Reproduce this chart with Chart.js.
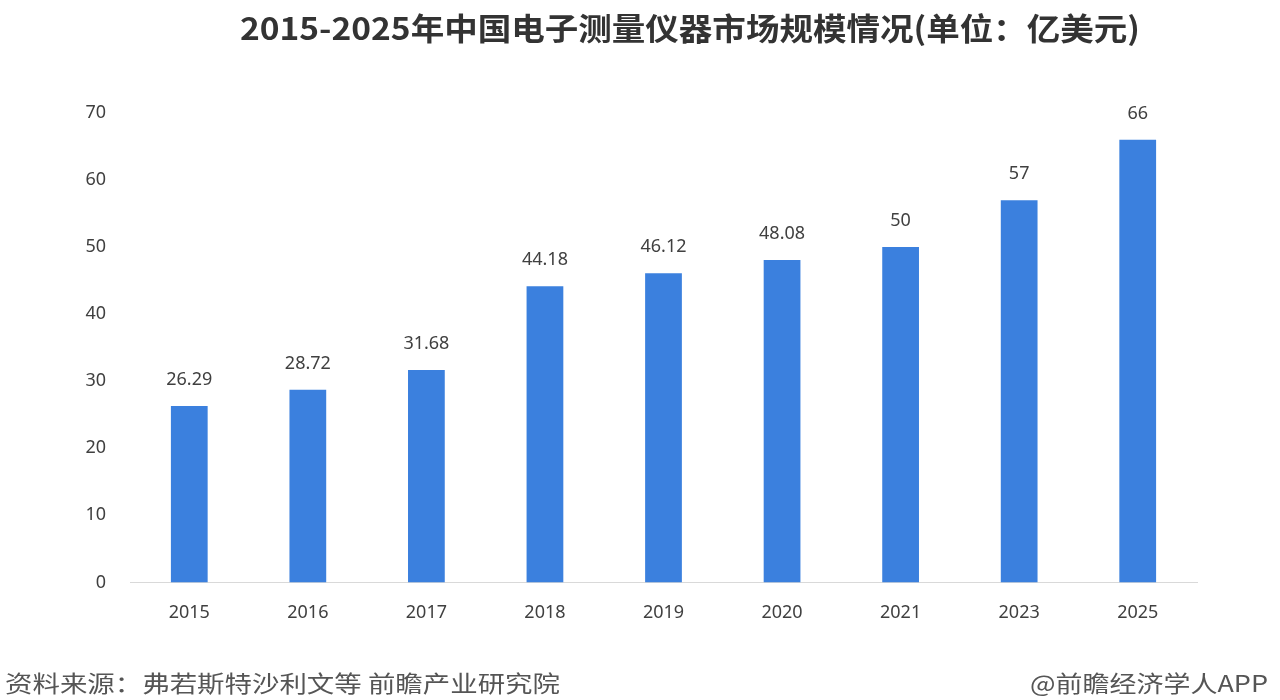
<!DOCTYPE html>
<html>
<head>
<meta charset="utf-8">
<script src="https://cdn.jsdelivr.net/npm/chart.js@4.4.0/dist/chart.umd.min.js"></script>
<style>
  html, body { margin: 0; padding: 0; background: #fff; }
  #wrap { width: 1280px; height: 700px; }
</style>
</head>
<body>
<div id="wrap"><canvas id="myChart" width="1280" height="700"></canvas></div>
<script>
const years = ['2015', '2016', '2017', '2018', '2019', '2020', '2021', '2023', '2025'];
const marketSize = [26.29, 28.72, 31.68, 44.18, 46.12, 48.08, 50, 57, 66];
const yTicks = [0, 10, 20, 30, 40, 50, 60, 70];

const titleText = '2015-2025年中国电子测量仪器市场规模情况(单位：亿美元)';
const sourceText = '资料来源：弗若斯特沙利文等 前瞻产业研究院';
const brandText = '@前瞻经济学人APP';

const cjk = '"Noto Sans CJK SC", "Noto Sans", sans-serif';

// draw text squeezed/stretched to span from x0 to x1
function fitText(ctx, text, x0, x1, y) {
  const w = ctx.measureText(text).width;
  ctx.save();
  ctx.translate(x0, y);
  ctx.scale((x1 - x0) / w, 1);
  ctx.textAlign = 'left';
  ctx.fillText(text, 0, 0);
  ctx.restore();
}

// value labels above each bar + title and footer texts
const extrasPlugin = {
  id: 'extras',
  afterDatasetsDraw(chart) {
    const ctx = chart.ctx;
    const meta = chart.getDatasetMeta(0);
    ctx.save();
    ctx.fillStyle = '#404040';
    ctx.font = '18px "Noto Sans", sans-serif';
    ctx.textAlign = 'center';
    ctx.textBaseline = 'middle';
    meta.data.forEach((bar, i) => {
      ctx.fillText(String(marketSize[i]), bar.x, bar.y - 26);
    });

    ctx.fillStyle = '#333333';
    ctx.font = 'bold 31px ' + cjk;
    fitText(ctx, titleText, 240, 1140, 28);

    ctx.fillStyle = '#555555';
    ctx.font = '23px ' + cjk;
    fitText(ctx, sourceText, 5, 560, 683);
    fitText(ctx, brandText, 1030, 1268, 683);
    ctx.restore();
  }
};

const config = {
  type: 'bar',
  data: {
    labels: years,
    datasets: [{
      data: marketSize,
      backgroundColor: '#3b80de',
      borderWidth: 0,
      barPercentage: 0.62,
      categoryPercentage: 0.5
    }]
  },
  options: {
    responsive: false,
    animation: false,
    layout: {
      padding: { left: 0, right: 83, top: 113, bottom: 56 }
    },
    scales: {
      y: {
        min: 0,
        max: 70,
        afterFit: (s) => { s.width = 130; },
        afterBuildTicks: (s) => { s.ticks = yTicks.map(v => ({ value: v })); },
        border: { display: false },
        grid: { display: false, drawTicks: false },
        ticks: {
          padding: 24,
          color: '#404040',
          font: { size: 18, family: '"Noto Sans", sans-serif' }
        }
      },
      x: {
        border: { display: true, color: '#d9d9d9', width: 1 },
        grid: { display: false, drawTicks: false },
        ticks: {
          padding: 20,
          color: '#404040',
          font: { size: 18, family: '"Noto Sans", sans-serif' }
        }
      }
    },
    plugins: {
      legend: { display: false },
      tooltip: { enabled: false }
    }
  },
  plugins: [extrasPlugin]
};

// render init block
const myChart = new Chart(document.getElementById('myChart'), config);
</script>
</body>
</html>
